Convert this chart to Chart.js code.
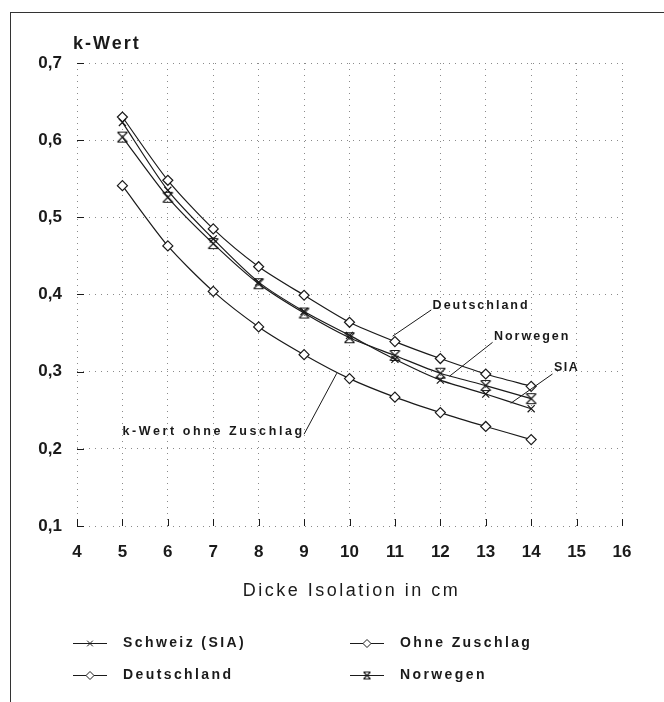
<!DOCTYPE html>
<html>
<head>
<meta charset="utf-8">
<script src="https://cdn.jsdelivr.net/npm/chart.js@4/dist/chart.umd.min.js"></script>
<style>
  html, body { margin: 0; padding: 0; background: #fff; }
  #wrap { position: relative; width: 664px; height: 702px; }
  #frame { position: absolute; left: 10px; top: 12px; width: 660px; height: 700px;
           border-top: 1.5px solid #333; border-left: 1.5px solid #333; }
  canvas { position: absolute; left: 0; top: 0; }
</style>
</head>
<body>
<div id="wrap">
  <div id="frame"></div>
  <canvas id="chart" width="664" height="702"></canvas>
</div>
<script>
// Dicke Isolation (cm)
const thickness = [5, 6, 7, 8, 9, 10, 11, 12, 13, 14];
const schweizSIA = [0.623, 0.535, 0.472, 0.416, 0.378, 0.347, 0.316, 0.289, 0.271, 0.252];
const deutschland = [0.630, 0.548, 0.485, 0.436, 0.399, 0.364, 0.339, 0.317, 0.297, 0.281];
const ohneZuschlag = [0.541, 0.463, 0.404, 0.358, 0.322, 0.291, 0.267, 0.247, 0.229, 0.212];
const norwegen = [0.604, 0.526, 0.466, 0.414, 0.376, 0.344, 0.321, 0.298, 0.282, 0.265];
const seriesNames = ['Schweiz (SIA)', 'Deutschland', 'Ohne Zuschlag', 'Norwegen'];

const INK = '#1a1a1a';
const FONT = '"Liberation Sans", Arial, sans-serif';

// hourglass marker for Norwegen
function hourglass(r) {
  const c = document.createElement('canvas');
  const s = r * 2 + 3;
  c.width = s; c.height = s;
  const g = c.getContext('2d');
  const a = 1.5, b = s - 1.5;
  g.strokeStyle = INK;
  g.lineWidth = 1.2;
  g.beginPath();
  g.moveTo(a, a); g.lineTo(b, b);
  g.moveTo(b, a); g.lineTo(a, b);
  g.moveTo(a, a); g.lineTo(b, a);
  g.moveTo(a, b); g.lineTo(b, b);
  g.stroke();
  return c;
}
const hourglassBig = hourglass(5);
const hourglassSmall = hourglass(3.5);

function series(label, data, style) {
  return {
    label, data,
    borderColor: INK, borderWidth: 1.2,
    backgroundColor: '#fff',
    pointStyle: style, pointRadius: 5, pointBorderWidth: 1.2,
    pointBorderColor: INK, pointBackgroundColor: '#fff',
    tension: 0.25, fill: false
  };
}

const datasets = [
  series(seriesNames[0], thickness.map((x, i) => ({ x, y: schweizSIA[i] })), 'crossRot'),
  series(seriesNames[1], thickness.map((x, i) => ({ x, y: deutschland[i] })), 'rectRot'),
  series(seriesNames[2], thickness.map((x, i) => ({ x, y: ohneZuschlag[i] })), 'rectRot'),
  series(seriesNames[3], thickness.map((x, i) => ({ x, y: norwegen[i] })), hourglassBig)
];

// callouts: text anchor and leader line, in data units
const callouts = [
  { text: 'Deutschland', tx: 11.83, ty: 0.386, from: [11.8, 0.380], to: [10.95, 0.346], sp: 2 },
  { text: 'Norwegen', tx: 13.18, ty: 0.345, from: [13.15, 0.338], to: [12.2, 0.294], sp: 2 },
  { text: 'SIA', tx: 14.5, ty: 0.305, from: [14.47, 0.297], to: [13.55, 0.259], sp: 1.5 },
  { text: 'k-Wert ohne Zuschlag', tx: 5.0, ty: 0.222, from: [9.0, 0.219], to: [9.72, 0.298], sp: 2.6 }
];

const extras = {
  id: 'extras',
  afterDraw(chart) {
    const { ctx, scales: { x, y } } = chart;
    ctx.save();
    ctx.fillStyle = INK;
    ctx.strokeStyle = INK;
    ctx.lineWidth = 1;

    // inward tick marks
    ctx.beginPath();
    y.ticks.forEach(t => {
      const py = Math.round(y.getPixelForValue(t.value)) + 0.5;
      ctx.moveTo(x.left, py); ctx.lineTo(x.left + 7, py);
    });
    x.ticks.forEach(t => {
      const px = Math.round(x.getPixelForValue(t.value)) + 0.5;
      ctx.moveTo(px, y.bottom); ctx.lineTo(px, y.bottom - 7);
    });
    ctx.stroke();

    // axis titles
    ctx.textBaseline = 'middle';
    ctx.textAlign = 'left';
    ctx.font = 'bold 18px ' + FONT;
    ctx.letterSpacing = '2px';
    ctx.fillText('k-Wert', 73, 44);
    ctx.font = '18px ' + FONT;
    ctx.letterSpacing = '2.5px';
    ctx.textAlign = 'center';
    ctx.fillText('Dicke Isolation in cm', (x.left + x.right) / 2 + 2, 591);
    ctx.textAlign = 'left';

    // callouts
    ctx.font = 'bold 12.5px ' + FONT;
    callouts.forEach(c => {
      ctx.letterSpacing = c.sp + 'px';
      ctx.beginPath();
      ctx.moveTo(x.getPixelForValue(c.from[0]), y.getPixelForValue(c.from[1]));
      ctx.lineTo(x.getPixelForValue(c.to[0]), y.getPixelForValue(c.to[1]));
      ctx.stroke();
      ctx.fillText(c.text, x.getPixelForValue(c.tx), y.getPixelForValue(c.ty));
    });

    // legend, two columns
    const slots = [[73, 643], [73, 675], [350, 643], [350, 675]];
    ctx.font = 'bold 14px ' + FONT;
    ctx.letterSpacing = '2.4px';
    chart.data.datasets.forEach((ds, i) => {
      const [lx, ly] = slots[i];
      ctx.beginPath();
      ctx.moveTo(lx, ly + 0.5); ctx.lineTo(lx + 34, ly + 0.5);
      ctx.stroke();
      const style = ds.pointStyle === hourglassBig ? hourglassSmall : ds.pointStyle;
      ctx.fillStyle = '#fff';
      Chart.helpers.drawPoint(ctx, { pointStyle: style, radius: 4, rotation: 0, borderWidth: 1 }, lx + 17, ly + 0.5);
      ctx.fillStyle = INK;
      ctx.fillText(ds.label, lx + 50, ly);
    });
    ctx.restore();
  }
};

new Chart(document.getElementById('chart'), {
  type: 'line',
  data: { datasets },
  plugins: [extras],
  options: {
    responsive: false,
    animation: false,
    layout: { padding: { left: 10, right: 42, top: 63, bottom: 90 } },
    plugins: { legend: { display: false }, tooltip: { enabled: false } },
    scales: {
      x: {
        type: 'linear', min: 4, max: 16,
        afterFit: s => { s.height = 86; },
        ticks: { stepSize: 1, padding: 16, color: INK, font: { family: FONT, size: 17, weight: 'bold' } },
        grid: { color: '#8a8a8a', lineWidth: 1, drawTicks: false },
        border: { display: false, dash: [1, 5] }
      },
      y: {
        type: 'linear', min: 0.1, max: 0.7,
        afterFit: s => { s.width = 67; },
        ticks: { stepSize: 0.1, padding: 15, color: INK,
                 font: { family: FONT, size: 17, weight: 'bold' },
                 callback: v => v.toFixed(1).replace('.', ',') },
        grid: { color: '#8a8a8a', lineWidth: 1, drawTicks: false },
        border: { display: false, dash: [1, 5] }
      }
    }
  }
});
</script>
</body>
</html>
